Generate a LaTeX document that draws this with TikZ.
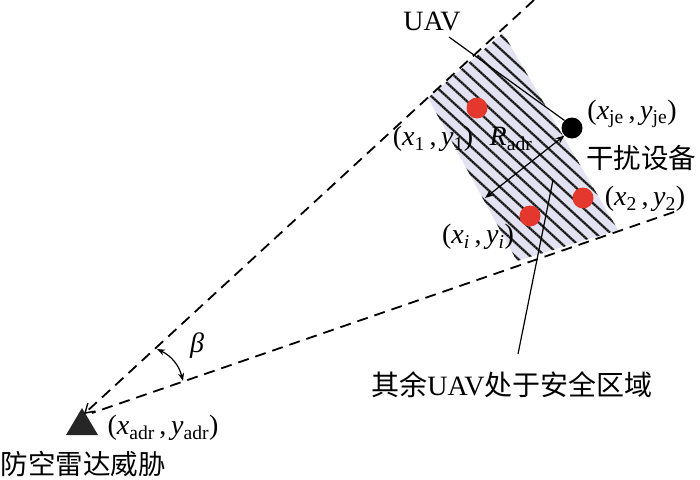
\documentclass[tikz,border=0pt]{standalone}
\usepackage{fontspec}
\setmainfont{Liberation Serif}
\newfontfamily\cjk{Noto Sans CJK SC}
\usetikzlibrary{arrows.meta}
\definecolor{zone}{RGB}{226,226,242}
\definecolor{dotred}{RGB}{228,56,46}
\tikzset{
  lbl/.style={font=\fontsize{28}{32}\selectfont, inner sep=0pt},
  cjklbl/.style={font=\fontsize{27.5}{32}\selectfont\cjk, inner sep=0pt},
  rangeline/.style={line width=1.8pt, dash pattern=on 11pt off 7pt},
  stripe/.style={line width=2.4pt, black!72},
  stripecore/.style={line width=1.2pt, black, dash pattern=on 1.5pt off 1.2pt},
  leader/.style={line width=1.2pt},
  reddot/.style={circle, fill=dotred, minimum size=21pt, inner sep=0pt},
  blackdot/.style={circle, fill=black, minimum size=21pt, inner sep=0pt},
}
\newcommand{\pt}[2]{(\textit{x}\textsubscript{#1}\,,\,\textit{y}\textsubscript{#2})}
\begin{document}
\begin{tikzpicture}[x=1pt,y=-1pt]
\useasboundingbox (0,0) rectangle (700,479);
% zone
\coordinate (q1) at (428,98);
\coordinate (q2) at (503,33);
\coordinate (q3) at (618,230);
\coordinate (q4) at (517,261);
\fill[zone] (q1) -- (q2) -- (q3) -- (q4) -- cycle;
\begin{scope}
\clip (q1) -- (q2) -- (q3) -- (q4) -- cycle;
\foreach \k in {-20,...,20}{
  \draw[stripe, shift={(\k*-6.9,\k*7.5)}] (299,-53) -- (741,353);
  \draw[stripecore, shift={(\k*-6.9,\k*7.5)}] (299,-53) -- (741,353);
}
\end{scope}
% radar
\fill[black!85] (82,408) -- (98,435) -- (66,435) -- cycle;
\coordinate (radar) at (84,414);
\coordinate (up) at (534,0);
\coordinate (lo) at (674,212);
\coordinate (loend) at (92,413);
\draw[rangeline, -{Straight Barb[length=9pt,width=11pt,line width=1.4pt]}] (up) -- (radar);
\draw[rangeline] (lo) -- (loend);
% beta
\coordinate (b1) at (157,349);
\coordinate (b2) at (183,381);
\draw[leader, {Stealth[length=8pt,width=6pt]}-{Stealth[length=8pt,width=6pt]}] (b1) to[bend left=25] (b2);
\node[lbl] (beta) at (197,346) {\textit{β}};
% dots
\node[reddot] (u1) at (477,108) {};
\node[reddot] (u2) at (583,198) {};
\node[reddot] (ui) at (530,216) {};
\node[blackdot] (jam) at (572,128) {};
% labels
\node[lbl] (uav) at (432,21) {UAV};
\node[lbl] (je) at (632,114) {\pt{je}{je}};
\node[cjklbl] (jamtxt) at (641,158) {干扰设备};
\node[lbl] (p2) at (645,199) {\pt{2}{2}};
\node[lbl] (pi) at (478,237) {\pt{\textit{i}}{\textit{i}}};
\node[lbl] (p1) at (433,139) {\pt{1}{1}};
\node[lbl] (radr) at (511,139) {\textit{R}\textsubscript{adr}};
\node[lbl] (padr) at (163,428) {\pt{adr}{adr}};
\node[cjklbl] (radartxt) at (83,464) {防空雷达威胁};
\node[lbl] (safe) at (512,385) {{\cjk 其余}UAV{\cjk 处于安全区域}};
% connectors
\coordinate (uavfoot) at (449,37);
\draw[leader] (uavfoot) -- (jam.north west);
\coordinate (rtip) at (485,198);
\draw[leader, {Stealth[length=9pt,width=7pt]}-{Stealth[length=9pt,width=7pt]}] (jam.south west) -- (rtip);
\coordinate (safetop) at (553,180);
\coordinate (safefoot) at (518,354);
\draw[leader] (safetop) -- (safefoot);
\end{tikzpicture}
\end{document}
